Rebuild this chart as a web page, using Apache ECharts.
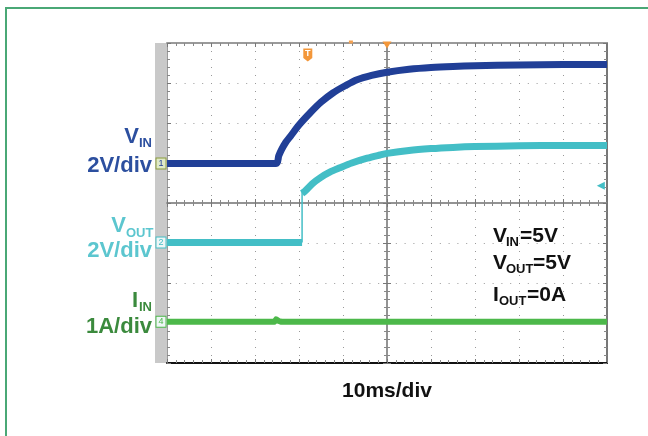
<!DOCTYPE html>
<html><head><meta charset="utf-8">
<script src="https://cdn.jsdelivr.net/npm/echarts/dist/echarts.min.js"></script>
<style>html,body{margin:0;padding:0;background:#fff}#c{width:648px;height:436px}</style>
</head><body><div id="c"></div>
<script>
// time in ms (10 ms/div), values in screen divisions (centre = 0)
const timeVin = [-50, -25.2, -24.6, -24, -23, -22, -20, -17.5, -15, -12.3, -9.5, -6.8, -3.5, 0, 5, 10, 15, 20, 30, 40, 50];
const vinDiv  = [0.99, 0.99, 1.18, 1.33, 1.52, 1.66, 1.95, 2.25, 2.52, 2.75, 2.93, 3.08, 3.19, 3.27, 3.345, 3.39, 3.415, 3.43, 3.45, 3.46, 3.46];

const timeVoutLow = [-50, -19.3];
const voutLowDiv  = [-0.99, -0.99];
const timeVoutStep = [-19.3, -19.3];
const voutStepDiv  = [-0.99, 0.3];
const timeVoutRise = [-19.3, -18.6, -17, -15.2, -13, -10.7, -8, -4.5, -1.6, 0, 5, 10, 15, 20, 30, 40, 50];
const voutRiseDiv  = [0.24, 0.30, 0.48, 0.63, 0.77, 0.88, 1.0, 1.12, 1.2, 1.24, 1.315, 1.36, 1.39, 1.41, 1.43, 1.44, 1.44];

const timeIin = [-50, -25.6, -25.2, -24.6, -24, 50];
const iinDiv  = [-2.97, -2.97, -2.91, -2.95, -2.97, -2.97];

const channelLabels = ['1', '2', '4'];
const triggerPos = [-18, 3.7];
const triggerLevelPos = [48.6, 0.43];

const pairs = (xs, ys) => xs.map((x, i) => [x, ys[i]]);

const C_VIN = '#213f97', C_VOUT = '#43bec6', C_IIN = '#4cb84a';
const T_VIN = '#2c4f9f', T_VOUT = '#5cc6cf', T_IIN = '#3b8a3d';

function chanMark(level, label, col) {
  return {
    symbol: 'rect', symbolSize: [10, 11], symbolOffset: [-6, 0],
    itemStyle: {color: '#eef6f6', borderColor: col, borderWidth: 1},
    label: {show: true, position: 'inside', formatter: label, fontSize: 9, color: col, fontFamily: 'Liberation Sans'},
    data: [{coord: [timeVin[0], level]}]
  };
}

const chart = echarts.init(document.getElementById('c'), null, {renderer: 'canvas'});
const gridBox = {left: 167, top: 43, width: 440, height: 320, show: false};
const hidden = {show: false};

const xEdge = (pos, color, w) => ({
  gridIndex: 0, type: 'value', min: -50, max: 50, interval: 10, position: pos,
  axisLine: {show: true, onZero: false, lineStyle: {color, width: w}},
  axisTick: {show: true, inside: true, length: 4, lineStyle: {color: '#777'}},
  minorTick: {show: true, splitNumber: 5, length: 3, lineStyle: {color: '#888'}},
  axisLabel: hidden,
  splitLine: {show: pos === 'bottom', lineStyle: {color: '#999', type: [1, 7], width: 1}}
});
const yEdge = (pos, color, w) => ({
  gridIndex: 0, type: 'value', min: -4, max: 4, interval: 1, position: pos,
  axisLine: {show: true, onZero: false, lineStyle: {color, width: w}},
  axisTick: {show: true, inside: true, length: 4, lineStyle: {color: '#777'}},
  minorTick: {show: true, splitNumber: 5, length: 3, lineStyle: {color: '#888'}},
  axisLabel: hidden,
  splitLine: {show: pos === 'left', lineStyle: {color: '#999', type: [1, 7.8], width: 1}}
});
const xCenter = (pos) => ({
  gridIndex: 1, type: 'value', min: -50, max: 50, interval: 10, position: pos,
  axisLine: {show: true, onZero: true, lineStyle: {color: '#8c8c8c', width: 1.5}},
  axisTick: {show: true, inside: true, length: 4, lineStyle: {color: '#777'}},
  minorTick: {show: true, splitNumber: 5, length: 3, lineStyle: {color: '#888'}},
  axisLabel: hidden, splitLine: hidden
});
const yCenter = (pos) => ({
  gridIndex: 1, type: 'value', min: -4, max: 4, interval: 1, position: pos,
  axisLine: {show: true, onZero: true, lineStyle: {color: '#8c8c8c', width: 1.5}},
  axisTick: {show: true, inside: true, length: 4, lineStyle: {color: '#777'}},
  minorTick: {show: true, splitNumber: 5, length: 3, lineStyle: {color: '#888'}},
  axisLabel: hidden, splitLine: hidden
});

const xb = xEdge('bottom', '#111', 2);
xb.name = '10ms/div';
xb.nameLocation = 'middle';
xb.nameGap = 18;
xb.nameTextStyle = {fontFamily: 'Liberation Sans', fontWeight: 'bold', fontSize: 21, color: '#111'};

const F = 'Liberation Sans';
function txt(x, y, s, size, color, align) {
  return {type: 'text', x, y, z: 10, style: {text: s, fill: color, font: 'bold ' + size + 'px "' + F + '"', textAlign: align || 'left', textVerticalAlign: 'middle'}};
}
const band = (color, width) => ({color, width, join: 'round', cap: 'butt'});

const option = {
  animation: false,
  backgroundColor: '#fff',
  grid: [gridBox, Object.assign({}, gridBox)],
  xAxis: [xb, xEdge('top', '#9a9a9a', 2), xCenter('bottom'), xCenter('top')],
  yAxis: [yEdge('left', '#9a9a9a', 1), yEdge('right', '#777', 2), yCenter('left'), yCenter('right')],
  series: [
    {type: 'line', xAxisIndex: 0, yAxisIndex: 0, data: pairs(timeVin, vinDiv), showSymbol: false, symbol: 'none',
     smooth: 0.3, lineStyle: band(C_VIN, 7), z: 5,
     markPoint: {
       data: [
         {coord: [timeVin[0], vinDiv[0]], symbol: 'rect', symbolSize: [10, 11], symbolOffset: [-6, 0],
          itemStyle: {color: '#dfe9c8', borderColor: '#8a9a3a', borderWidth: 1},
          label: {show: true, position: 'inside', formatter: channelLabels[0], fontSize: 9, color: C_VIN}},
         {coord: triggerPos, symbol: 'path://M0,0 L10,0 L10,11 L5,15 L0,11 Z', symbolSize: [9, 13],
          itemStyle: {color: '#f3973a'},
          label: {show: true, position: 'inside', formatter: 'T', fontSize: 9, fontWeight: 'bold', color: '#fff', offset: [0, -1]}},
         {coord: [0, 4], symbol: 'triangle', symbolRotate: 180, symbolSize: [9, 7], symbolOffset: [0, 2],
          itemStyle: {color: '#f3973a'}, label: hidden},
         {coord: [-8.2, 4], symbol: 'rect', symbolSize: [4, 3], symbolOffset: [0, -1],
          itemStyle: {color: '#f3a050'}, label: hidden}
       ]
     }},
    {type: 'line', xAxisIndex: 0, yAxisIndex: 0, data: pairs(timeVoutLow, voutLowDiv), showSymbol: false, symbol: 'none',
     lineStyle: band(C_VOUT, 7), z: 4,
     markPoint: chanMark(voutLowDiv[0], channelLabels[1], C_VOUT)},
    {type: 'line', xAxisIndex: 0, yAxisIndex: 0, data: pairs(timeVoutStep, voutStepDiv), showSymbol: false, symbol: 'none',
     lineStyle: {color: C_VOUT, width: 1.5}, z: 4},
    {type: 'line', xAxisIndex: 0, yAxisIndex: 0, data: pairs(timeVoutRise, voutRiseDiv), showSymbol: false, symbol: 'none',
     smooth: 0.3, lineStyle: band(C_VOUT, 7), z: 4,
     markPoint: {data: [{coord: triggerLevelPos, symbol: 'triangle', symbolRotate: 90, symbolSize: [8, 8],
       itemStyle: {color: C_VOUT}, label: hidden}]}},
    {type: 'line', xAxisIndex: 0, yAxisIndex: 0, data: pairs(timeIin, iinDiv), showSymbol: false, symbol: 'none',
     lineStyle: band(C_IIN, 6), z: 3,
     markPoint: chanMark(iinDiv[0], channelLabels[2], C_IIN)}
  ],
  graphic: [
    {type: 'polyline', z: 0, shape: {points: [[6, 436], [6, 8], [648, 8]]}, style: {stroke: '#4aa876', lineWidth: 2, fill: null}},
    {type: 'rect', z: -1, shape: {x: 155, y: 43, width: 12, height: 320}, style: {fill: '#c9c9c9'}},
    // left channel labels
    txt(139, 137, 'V', 22, T_VIN, 'right'), txt(139, 143, 'IN', 13, T_VIN),
    txt(152, 166, '2V/div', 22, T_VIN, 'right'),
    txt(126, 226, 'V', 22, T_VOUT, 'right'), txt(126, 233, 'OUT', 13, T_VOUT),
    txt(152, 251, '2V/div', 22, T_VOUT, 'right'),
    txt(138, 301, 'I', 22, T_IIN, 'right'), txt(139, 307, 'IN', 13, T_IIN),
    txt(152, 327, '1A/div', 22, T_IIN, 'right'),
    // annotations
    txt(493, 236, 'V', 21, '#111'), txt(506, 242, 'IN', 13, '#111'), txt(520, 236, '=5V', 21, '#111'),
    txt(493, 263, 'V', 21, '#111'), txt(506, 269, 'OUT', 13, '#111'), txt(533, 263, '=5V', 21, '#111'),
    txt(493, 295, 'I', 21, '#111'), txt(499, 301, 'OUT', 13, '#111'), txt(527, 295, '=0A', 21, '#111')
  ]
};
chart.setOption(option);
</script>
</body></html>
